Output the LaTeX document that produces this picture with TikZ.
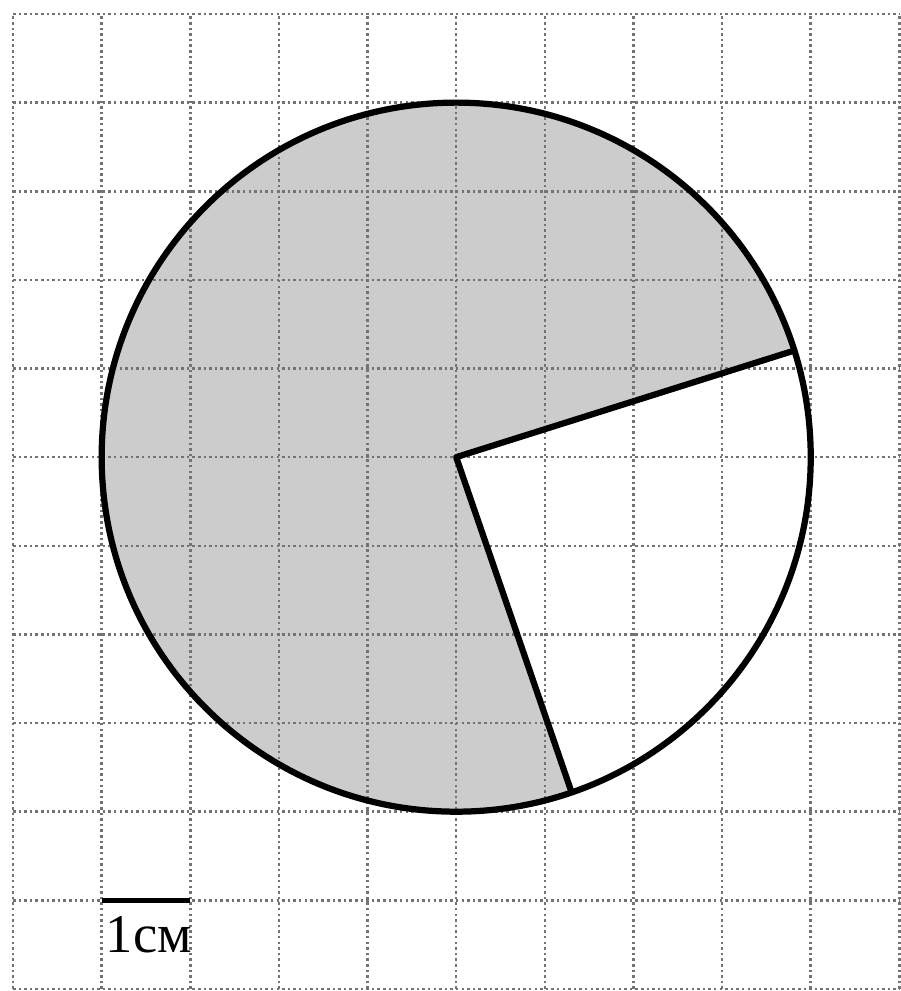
\documentclass[tikz,border=0pt]{standalone}
\usepackage{fontspec}
\newfontfamily\cyrfont{Liberation Serif}

\tikzset{
  sheet/.style={black!55,densely dotted,line width=0.8pt},
  bold/.style={line width=2pt,line join=round},
  shade/.style={fill=gray!40}
}

\begin{document}
\begin{tikzpicture}[x=1cm,y=1cm]
  \useasboundingbox (-0.147,-0.023) rectangle (10.017,11.158);
  \coordinate (O) at (5,6);
  \coordinate (A) at ([shift={(17.5:4)}]O);
  \coordinate (B) at ([shift={(-71:4)}]O);
  % shaded sector
  \fill[shade] (O) -- (A) arc[start angle=17.5,end angle=289,radius=4] -- cycle;
  % squared paper
  \draw[sheet] (0,0) grid (10,11);
  % circle and radii
  \draw[bold] (O) circle (4);
  \draw[bold] (A) -- (O) -- (B);
  % scale
  \coordinate (s1) at (1,1);
  \coordinate (s2) at (2,1);
  \draw[line width=1.8pt] (s1) -- (s2);
  \node[anchor=north west,inner sep=0pt,font=\cyrfont\fontsize{17.5}{17.5}\selectfont] (unit) at (1.04,0.82) {1см};
\end{tikzpicture}
\end{document}
